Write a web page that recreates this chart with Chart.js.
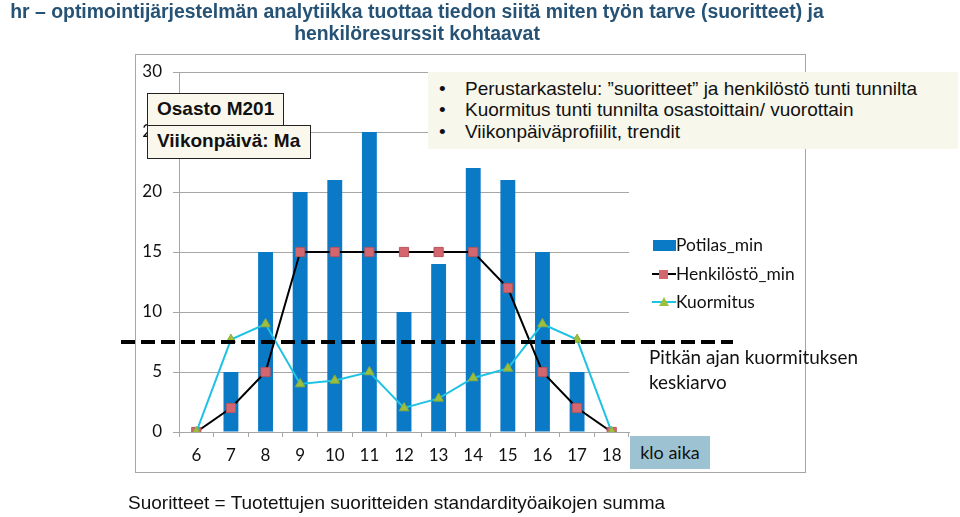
<!DOCTYPE html>
<html>
<head>
<meta charset="utf-8">
<script src="https://cdn.jsdelivr.net/npm/chart.js@4/dist/chart.umd.min.js"></script>
<style>
  body { margin: 0; background: #fff; }
  #wrap { position: relative; width: 960px; height: 517px; overflow: hidden; }
  #frame { position: absolute; left: 135px; top: 54px; width: 669px; height: 417px; border: 1px solid #a6a6a6; }
  canvas { position: absolute; left: 0; top: 0; }
  .txt { position: absolute; white-space: nowrap; }
  #otsikko { left: 0; top: 0; width: 834px; text-align: center; font: bold 19.4px "Liberation Sans", Arial, sans-serif; color: #255275; line-height: 22px; }
  .laatikko { position: absolute; background: #faf8ec; border: 1.5px solid #222; font: bold 19px "Liberation Sans", Arial, sans-serif; color: #111; box-sizing: border-box; padding-left: 9px; line-height: 30px; }
  #luettelo { position: absolute; left: 428px; top: 72px; width: 530px; height: 77px; background: #f8f7eb; font: 19px "Liberation Sans", Arial, sans-serif; color: #111; line-height: 22px; }
  #luettelo div { position: absolute; left: 37px; white-space: nowrap; }
  #luettelo div::before { content: "•"; position: absolute; left: -26px; }
  #legenda div { position: absolute; font: 17.4px Lato, sans-serif; color: #111; white-space: nowrap; }
  #klo { position: absolute; left: 630px; top: 436px; width: 80px; height: 33px; background: #9dc3d3; font: 18px Lato, sans-serif; text-align: center; line-height: 33px; color: #111; }
</style>
</head>
<body>
<div id="wrap">
  <div id="frame"></div>
  <canvas id="kaavio" width="960" height="517"></canvas>
  <div id="otsikko" class="txt">hr – optimointijärjestelmän analytiikka tuottaa tiedon siitä miten työn tarve (suoritteet) ja<br>henkilöresurssit kohtaavat</div>
  <div class="laatikko" style="left:147px; top:93px; width:137px; height:34px;">Osasto M201</div>
  <div class="laatikko" style="left:147px; top:125px; width:164px; height:34px;">Viikonpäivä: Ma</div>
  <div id="luettelo">
    <div style="top:6px">Perustarkastelu: ”suoritteet” ja henkilöstö tunti tunnilta</div>
    <div style="top:27px">Kuormitus tunti tunnilta osastoittain/ vuorottain</div>
    <div style="top:49px">Viikonpäiväprofiilit, trendit</div>
  </div>
  <div id="legenda"></div>
  <div class="txt" style="left:649px; top:344px; font:18.9px Lato, sans-serif; line-height:25px; color:#111;">Pitkän ajan kuormituksen<br>keskiarvo</div>
  <div id="klo">klo aika</div>
  <div class="txt" style="left:128px; top:492px; font:19px 'Liberation Sans', Arial, sans-serif; color:#111;">Suoritteet = Tuotettujen suoritteiden standardityöaikojen summa</div>
</div>
<script>
// tunnit ja sarjat
const tunnit = ['6', '7', '8', '9', '10', '11', '12', '13', '14', '15', '16', '17', '18'];
const potilasMin = [0, 5, 15, 20, 21, 25, 10, 14, 22, 21, 15, 5, 0];
const henkilostoMin = [0, 2, 5, 15, 15, 15, 15, 15, 15, 12, 5, 2, 0];
const kuormitus = [0, 7.7, 9, 4, 4.3, 5, 2, 2.8, 4.5, 5.3, 9, 7.7, 0];
const keskiarvo = 7.5; // pitkän ajan kuormituksen keskiarvo

const sininen = '#0a7ac6';
const viiva = '#1ec3e3';

// katkoviiva keskiarvon kohdalle
const keskiarvoViiva = {
  id: 'keskiarvoViiva',
  afterDatasetsDraw(chart) {
    const ctx = chart.ctx;
    const y = chart.scales.y.getPixelForValue(keskiarvo);
    ctx.save();
    ctx.strokeStyle = '#000';
    ctx.lineWidth = 4;
    ctx.setLineDash([14, 6]);
    ctx.beginPath();
    ctx.moveTo(121, y);
    ctx.lineTo(733, y);
    ctx.stroke();
    ctx.restore();
  }
};

const kaavio = new Chart(document.getElementById('kaavio'), {
  type: 'bar',
  data: {
    labels: tunnit,
    datasets: [
      {
        label: 'Potilas_min',
        data: potilasMin,
        backgroundColor: sininen,
        barPercentage: 0.86,
        categoryPercentage: 0.5,
        order: 3
      },
      {
        type: 'line',
        label: 'Henkilöstö_min',
        data: henkilostoMin,
        borderColor: '#000',
        borderWidth: 2,
        pointStyle: 'rect',
        pointRadius: 6.5,
        pointBackgroundColor: '#d4666f',
        pointBorderColor: '#b8545c',
        pointBorderWidth: 1,
        tension: 0,
        order: 2
      },
      {
        type: 'line',
        label: 'Kuormitus',
        data: kuormitus,
        borderColor: viiva,
        borderWidth: 2,
        pointStyle: 'triangle',
        pointRadius: 5.5,
        pointBackgroundColor: '#9cc03e',
        pointBorderColor: '#8aad3a',
        pointBorderWidth: 1,
        tension: 0,
        order: 1
      }
    ]
  },
  options: {
    responsive: false,
    animation: false,
    layout: { padding: { left: 129, right: 331, top: 72, bottom: 45 } },
    plugins: { legend: { display: false }, tooltip: { enabled: false } },
    scales: {
      x: {
        afterFit(s) { s.height = 40; },
        grid: { drawOnChartArea: false, tickLength: 5, color: '#a6a6a6' },
        border: { color: '#a6a6a6' },
        ticks: { color: '#111', font: { family: 'Lato', size: 17 }, padding: 8 }
      },
      y: {
        min: 0,
        max: 30,
        afterFit(s) { s.width = 50; },
        grid: { color: '#a6a6a6', tickLength: 6 },
        border: { color: '#a6a6a6' },
        ticks: { stepSize: 5, color: '#111', font: { family: 'Lato', size: 17 }, padding: 11 }
      }
    }
  },
  plugins: [keskiarvoViiva]
});

// selite sarjojen väreistä
const legenda = document.getElementById('legenda');
const rivit = [
  { nimi: 'Potilas_min', top: 232 },
  { nimi: 'Henkilöstö_min', top: 261 },
  { nimi: 'Kuormitus', top: 289 }
];
rivit.forEach(function (r, i) {
  const d = document.createElement('div');
  d.style.left = '652px';
  d.style.top = r.top + 'px';
  const c = document.createElement('canvas');
  c.width = 24; c.height = 20;
  c.style.position = 'static';
  c.style.verticalAlign = 'middle';
  const g = c.getContext('2d');
  const ds = kaavio.data.datasets[i];
  if (i === 0) {
    g.fillStyle = ds.backgroundColor;
    g.fillRect(1, 5, 23, 11);
  } else {
    g.strokeStyle = ds.borderColor;
    g.lineWidth = 2;
    g.beginPath(); g.moveTo(0, 10); g.lineTo(24, 10); g.stroke();
    g.fillStyle = ds.pointBackgroundColor;
    if (i === 1) {
      g.fillRect(7, 6, 9, 9);
    } else {
      g.beginPath(); g.moveTo(12, 5); g.lineTo(17, 14); g.lineTo(7, 14); g.closePath(); g.fill();
    }
  }
  d.appendChild(c);
  const s = document.createElement('span');
  s.textContent = r.nimi;
  s.style.verticalAlign = 'middle';
  d.appendChild(s);
  legenda.appendChild(d);
});
</script>
</body>
</html>
